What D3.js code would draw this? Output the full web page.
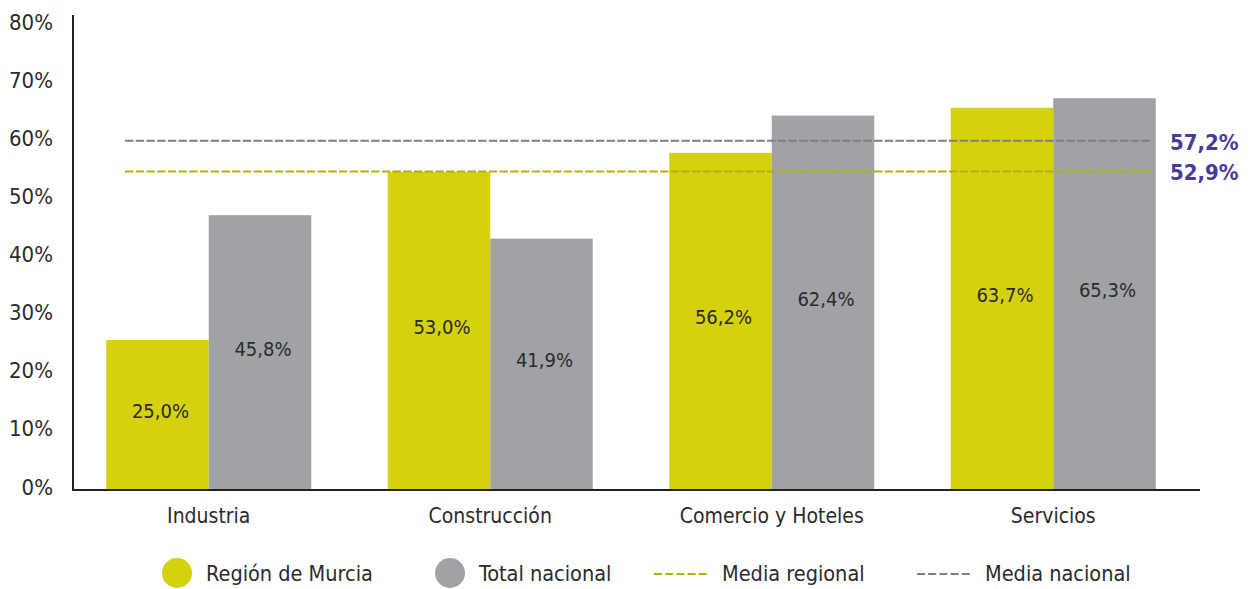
<!DOCTYPE html>
<html>
<head>
<meta charset="utf-8">
<script src="https://cdn.jsdelivr.net/npm/d3@7"></script>
<style>
  body { margin: 0; background: #fff; }
  text { font-family: "Liberation Sans Narrow", "Arial Narrow", "DejaVu Sans Condensed", sans-serif; fill: #2b2b2b; }
</style>
</head>
<body>
<svg id="chart" width="1251" height="589"></svg>
<script>
// data
const categories = ["Industria", "Construcción", "Comercio y Hoteles", "Servicios"];
const seriesNames = ["Región de Murcia", "Total nacional"];
const murcia = [25.0, 53.0, 56.2, 63.7];
const nacional = [45.8, 41.9, 62.4, 65.3];
const yTicks = [0, 10, 20, 30, 40, 50, 60, 70, 80];
const mediaNames = ["Media regional", "Media nacional"];
const mediaLabels = ["52,9%", "57,2%"];
const mediaLevels = [53.1, 58.2]; // where the dashed lines sit in the picture

const colors = ["#d5d10f", "#a1a2a6"];
const lineColors = ["#b3b00f", "#808083"];

const svg = d3.select("#chart");
const left = 73, right = 1200, bottom = 490;

const x0 = d3.scaleBand().domain(categories).range([68, 1194]);
const x1 = d3.scaleBand().domain(seriesNames).range([0, x0.bandwidth()]).paddingOuter(0.373);
const y = d3.scaleLinear().domain([0, 80]).range([bottom, 10]);
const yLab = d3.scaleLinear().domain([0, 80]).range([487, 22]);

const fmt = v => v.toFixed(1).replace(".", ",") + "%";

// bars
const rows = categories.map((c, i) => ({ cat: c, vals: [murcia[i], nacional[i]] }));
const g = svg.selectAll(".grp").data(rows).enter().append("g")
    .attr("transform", d => "translate(" + x0(d.cat) + ",0)");

g.selectAll("rect").data(d => d.vals.map((v, k) => ({ v: v, k: k })))
  .enter().append("rect")
    .attr("x", d => x1(seriesNames[d.k]))
    .attr("y", d => y(d.v))
    .attr("width", x1.bandwidth())
    .attr("height", d => bottom - y(d.v))
    .style("fill", d => colors[d.k]);

g.selectAll(".val").data(d => d.vals.map((v, k) => ({ v: v, k: k })))
  .enter().append("text")
    .attr("class", "val")
    .attr("x", d => x1(seriesNames[d.k]) + x1.bandwidth() / 2 + 3)
    .attr("y", d => (y(d.v) + bottom) / 2 + 3)
    .attr("text-anchor", "middle")
    .style("font-size", "20px")
    .text(d => fmt(d.v));

// media lines
mediaLevels.forEach((m, i) => {
  svg.append("line")
    .attr("x1", 125).attr("x2", 1150)
    .attr("y1", y(m)).attr("y2", y(m))
    .style("stroke", lineColors[i])
    .style("stroke-width", 2)
    .style("stroke-dasharray", "8.5,2.2");
  svg.append("text")
    .attr("x", 1170)
    .attr("y", y(m) + 9)
    .style("font-size", "22px")
    .style("font-weight", "bold")
    .style("fill", "#4b3a98")
    .text(mediaLabels[i]);
});

// axes
const yAxis = d3.axisLeft(yLab).tickValues(yTicks).tickSize(0).tickPadding(20)
    .tickFormat(d => d + "%");
const gy = svg.append("g").attr("transform", "translate(" + left + ",0)").call(yAxis);
gy.select(".domain").remove();
gy.selectAll("text").style("font-size", "22px").style("fill", "#2b2b2b");

svg.append("line").attr("x1", left).attr("x2", left).attr("y1", 15).attr("y2", bottom)
  .style("stroke", "#222").style("stroke-width", 2);
svg.append("line").attr("x1", left - 1).attr("x2", right).attr("y1", bottom).attr("y2", bottom)
  .style("stroke", "#222").style("stroke-width", 2);

const xAxis = d3.axisBottom(x0).tickSize(0).tickPadding(18);
const gx = svg.append("g").attr("transform", "translate(0," + bottom + ")").call(xAxis);
gx.select(".domain").remove();
gx.selectAll("text").style("font-size", "21px").style("fill", "#2b2b2b");

// legend
const legY = 573;
const circX = [177, 450];
seriesNames.forEach((s, i) => {
  svg.append("circle").attr("cx", circX[i]).attr("cy", legY).attr("r", 15).style("fill", colors[i]);
  svg.append("text").attr("x", circX[i] + 29).attr("y", legY + 8)
    .style("font-size", "21.5px").text(s);
});
const lineX = [654, 917];
mediaNames.forEach((s, i) => {
  svg.append("line").attr("x1", lineX[i]).attr("x2", lineX[i] + 53)
    .attr("y1", legY + 1).attr("y2", legY + 1)
    .style("stroke", lineColors[i]).style("stroke-width", 2)
    .style("stroke-dasharray", "8,3.2");
  svg.append("text").attr("x", lineX[i] + 68).attr("y", legY + 8)
    .style("font-size", "21.5px").text(s);
});
</script>
</body>
</html>
